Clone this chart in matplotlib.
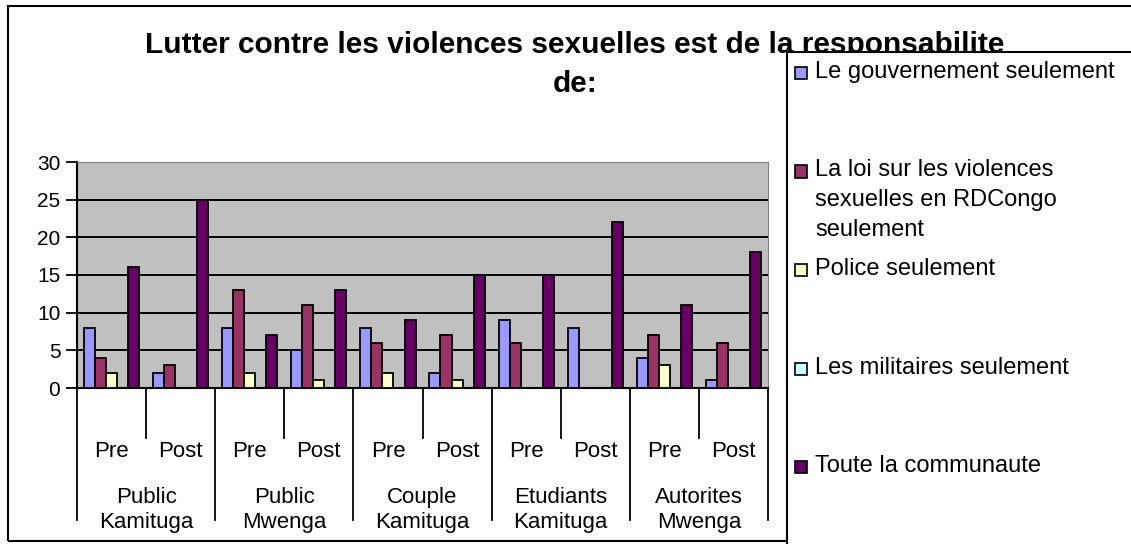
import matplotlib.pyplot as plt
from matplotlib.patches import Rectangle
import numpy as np

plt.rcParams['font.family'] = ['Liberation Sans', 'DejaVu Sans']

groups = ['Public\nKamituga', 'Public\nMwenga', 'Couple\nKamituga', 'Etudiants\nKamituga', 'Autorites\nMwenga']
phases = ['Pre', 'Post']
series = ['Le gouvernement seulement',
          'La loi sur les violences\nsexuelles en RDCongo\nseulement',
          'Police seulement',
          'Les militaires seulement',
          'Toute la communaute']
gouvernement = [8, 2, 8, 5, 8, 2, 9, 8, 4, 1]
loi = [4, 3, 13, 11, 6, 7, 6, 0, 7, 6]
police = [2, 0, 2, 1, 2, 1, 0, 0, 3, 0]
militaires = [0, 0, 0, 0, 0, 0, 0, 0, 0, 0]
communaute = [16, 25, 7, 13, 9, 15, 15, 22, 11, 18]
colors = ['#9999FF', '#993366', '#FFFFCC', '#CCFFFF', '#660066']
title = 'Lutter contre les violences sexuelles est de la responsabilite\nde:'

W, H = 1131, 544
fig = plt.figure(figsize=(W/100, H/100), dpi=100)
ax = fig.add_axes([77/W, 1-388/H, (768-77)/W, (388-162)/H])
ax.set_facecolor('#C0C0C0')

data = [gouvernement, loi, police, militaires, communaute]
n = len(gouvernement)
x = np.arange(n) + 0.5
bw = 0.16
for k, vals in enumerate(data):
    ax.bar(x + (k-2)*bw, vals, bw, color=colors[k], edgecolor='black', linewidth=1.3, zorder=3)

ax.set_xlim(0, n)
ax.set_ylim(0, 30)
ax.set_yticks(range(0, 31, 5))
ax.yaxis.grid(True, color='black', linewidth=1.4, zorder=1)
ax.set_axisbelow(True)
ax.tick_params(axis='y', labelsize=15, length=8, width=1.3, pad=4)
ax.set_xticks([])
for s in ['top', 'right']:
    ax.spines[s].set_color('#808080')
for s in ['left', 'bottom']:
    ax.spines[s].set_linewidth(1.5)

# two-level category axis
tr = ax.get_xaxis_transform()
for i in range(n + 1):
    low = -0.584 if i % 2 == 0 else -0.221
    ax.plot([i, i], [0, low], color='black', linewidth=1.3, transform=tr, clip_on=False)
for i in range(n):
    ax.text(x[i], -0.283, phases[i % 2], transform=tr, ha='center', va='center', fontsize=16)
for g, name in enumerate(groups):
    ax.text(2*g + 1, -0.54, name, transform=tr, ha='center', va='center', fontsize=16, linespacing=1.3)

# title
fig.text(575/W, 1-31/H, title, ha='center', va='top', fontsize=21.5, fontweight='bold',
         linespacing=1.5, zorder=3)

# outer chart border
fig.patches.append(Rectangle((8/W, 1-541/H), 1.2, 535/H, transform=fig.transFigure,
                             fill=False, edgecolor='black', linewidth=1.5, zorder=1))

# legend box
fig.patches.append(Rectangle((787/W, -0.1), 1.0, 0.1 + 1-52/H, transform=fig.transFigure,
                             facecolor='white', edgecolor='black', linewidth=1.5, zorder=5))
for k, label in enumerate(series):
    yc = 73 + k*98.5
    fig.patches.append(Rectangle((795/W, 1-(yc+6)/H), 12/W, 12/H, transform=fig.transFigure,
                                 facecolor=colors[k], edgecolor='black', linewidth=1.2, zorder=6))
    fig.text(815/W, 1-(yc-12)/H, label, ha='left', va='top', fontsize=17, linespacing=1.45, zorder=7)

fig.savefig('out.png', dpi=100)
